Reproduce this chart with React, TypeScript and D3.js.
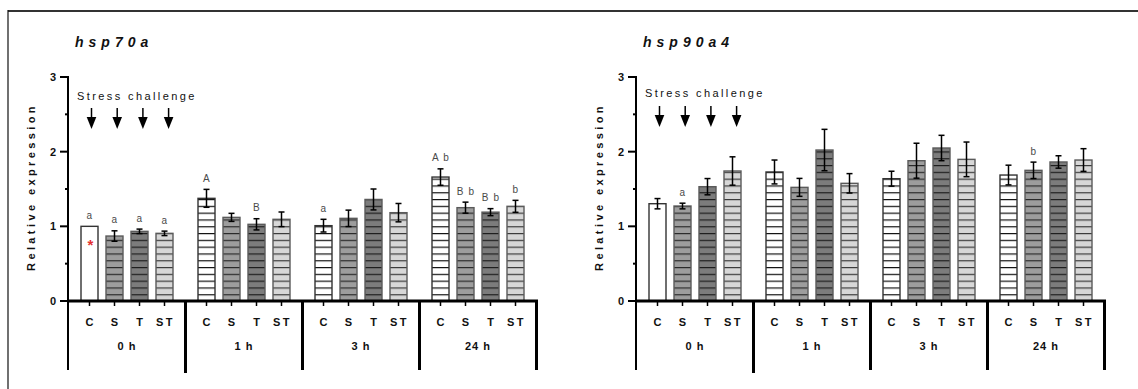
import React from "react";
import * as d3 from "d3";

// Sampling times and treatment groups
const groups = ["0 h", "1 h", "3 h", "24 h"];
const treatments = ["C", "S", "T", "ST"];
const yTicks = [0, 1, 2, 3];
const yMinorTicks = [0.5, 1.5, 2.5];

// hsp70a relative expression (mean, SEM), ordered group by group, C/S/T/ST
const hsp70aMean = [
  1.0, 0.87, 0.933, 0.906,
  1.375, 1.12, 1.027, 1.094,
  1.009, 1.107, 1.36, 1.183,
  1.66, 1.25, 1.19, 1.268,
];
const hsp70aErr = [
  0, 0.07, 0.03, 0.03,
  0.12, 0.054, 0.075, 0.098,
  0.085, 0.11, 0.14, 0.123,
  0.11, 0.074, 0.047, 0.08,
];
const hsp70aLetters = [
  "a", "a", "a", "a",
  "A", "", "B", "",
  "a", "", "", "",
  "A b", "B b", "B b", "b",
];

// hsp90a4 relative expression
const hsp90a4Mean = [
  1.303, 1.272, 1.531, 1.741,
  1.728, 1.522, 2.022, 1.576,
  1.638, 1.879, 2.049, 1.897,
  1.687, 1.75, 1.862, 1.888,
];
const hsp90a4Err = [
  0.069, 0.038, 0.109, 0.19,
  0.16, 0.12, 0.277, 0.13,
  0.1, 0.234, 0.17, 0.232,
  0.132, 0.11, 0.083, 0.152,
];
const hsp90a4Letters = [
  "", "a", "", "",
  "", "", "", "",
  "", "", "", "",
  "", "b", "", "",
];

const FONT = "'Liberation Sans', Arial, sans-serif";
const W = 1138;
const H = 389;

const fills: Record<string, string> = { C: "#ffffff", S: "#9d9d9d", T: "#7c7c7c", ST: "#d7d7d7" };
const stripeColor: Record<string, string> = { C: "#111", S: "#2a2a2a", T: "#1e1e1e", ST: "#3a3a3a" };

const y = d3.scaleLinear().domain([0, 3]).range([301, 77]);

type PanelProps = {
  title: string;
  means: number[];
  errs: number[];
  letters: string[];
  axisX: number;
  annotY: number;
  arrowY: number;
  pid: string;
};

function Panel({ title, means, errs, letters, axisX, annotY, arrowY, pid }: PanelProps) {
  const xGroup = d3.scaleBand<string>().domain(groups).range([axisX + 0.5, axisX + 468.5]).padding(0);
  const xInner = d3
    .scaleBand<string>()
    .domain(treatments)
    .range([0, xGroup.bandwidth()])
    .paddingInner(0.32)
    .paddingOuter(0.5);
  const bw = xInner.bandwidth();
  const base = y(0);
  const xEnd = axisX + 470;

  const bars = groups.flatMap((g, gi) =>
    treatments.map((t, ti) => {
      const k = gi * 4 + ti;
      const x0 = (xGroup(g) as number) + (xInner(t) as number);
      return { g, gi, t, ti, k, x0, cx: x0 + bw / 2, m: means[k], e: errs[k], lab: letters[k] };
    })
  );

  return (
    <g>
      <defs>
        {treatments.map((t) => (
          <pattern
            key={t}
            id={`${pid}-${t}`}
            patternUnits="userSpaceOnUse"
            x={0}
            y={base}
            width={8}
            height={6.8}
          >
            <rect width={8} height={6.8} fill={fills[t]} />
            <rect y={0} width={8} height={1.2} fill={stripeColor[t]} />
          </pattern>
        ))}
      </defs>

      {/* title */}
      <text
        x={axisX + 7}
        y={47}
        fontFamily={FONT}
        fontWeight="bold"
        fontStyle="italic"
        fontSize={14}
        letterSpacing={5}
        fill="#111"
      >
        {title}
      </text>

      {/* y-axis title */}
      <text
        transform={`translate(${axisX - 36},187) rotate(-90)`}
        textAnchor="middle"
        dominantBaseline="middle"
        fontFamily={FONT}
        fontWeight="bold"
        fontSize={11}
        letterSpacing={3.4}
        fill="#111"
      >
        Relative expression
      </text>

      {/* bars */}
      {bars.map((b) => (
        <rect
          key={`bar-${b.k}`}
          x={b.x0}
          y={y(b.m)}
          width={bw}
          height={base - y(b.m)}
          fill={b.k === 0 ? "#ffffff" : `url(#${pid}-${b.t})`}
          stroke={b.t === "C" ? "#333" : "#5a5a5a"}
          strokeWidth={1.4}
        />
      ))}

      {/* error bars */}
      {bars
        .filter((b) => b.e > 0)
        .map((b) => (
          <g key={`err-${b.k}`} stroke="#000" strokeWidth={1.5}>
            <line x1={b.cx} x2={b.cx} y1={y(b.m + b.e)} y2={y(b.m - b.e)} />
            <line x1={b.cx - 3} x2={b.cx + 3} y1={y(b.m + b.e)} y2={y(b.m + b.e)} />
            <line x1={b.cx - 3} x2={b.cx + 3} y1={y(b.m - b.e)} y2={y(b.m - b.e)} />
          </g>
        ))}

      {/* significance letters */}
      {bars
        .filter((b) => b.lab)
        .map((b) => (
          <text
            key={`lab-${b.k}`}
            x={b.cx + 0.5}
            y={y(b.m + b.e) - 10}
            textAnchor="middle"
            dominantBaseline="middle"
            fontFamily={FONT}
            fontSize={10}
            letterSpacing={1.2}
            fill="#4a4a4a"
          >
            {b.lab}
          </text>
        ))}

      {/* y axis */}
      <line x1={axisX} x2={axisX} y1={y(3) - 1} y2={370} stroke="#000" strokeWidth={2} />
      {yTicks.map((v) => (
        <g key={`yt-${v}`}>
          <line x1={axisX - 8} x2={axisX} y1={y(v)} y2={y(v)} stroke="#000" strokeWidth={2} />
          <text
            x={axisX - 12}
            y={y(v) + 4}
            textAnchor="end"
            fontFamily={FONT}
            fontWeight="bold"
            fontSize={11}
            fill="#111"
          >
            {v}
          </text>
        </g>
      ))}
      {yMinorTicks.map((v) => (
        <line key={`ym-${v}`} x1={axisX - 3} x2={axisX} y1={y(v)} y2={y(v)} stroke="#000" strokeWidth={2} />
      ))}

      {/* x axis */}
      <line x1={axisX} x2={xEnd} y1={base} y2={base} stroke="#000" strokeWidth={3} />
      {bars.map((b) => (
        <line key={`xt-${b.k}`} x1={b.cx} x2={b.cx} y1={base} y2={base + 5} stroke="#000" strokeWidth={1.5} />
      ))}
      {bars.map((b) => (
        <text
          key={`xl-${b.k}`}
          x={b.cx + (b.t === "ST" ? 1 : 0)}
          y={326}
          textAnchor="middle"
          fontFamily={FONT}
          fontWeight="bold"
          fontSize={11}
          letterSpacing={b.t === "ST" ? 2.5 : 0}
          fill="#111"
        >
          {b.t}
        </text>
      ))}

      {/* group separators */}
      {groups.map((g, gi) =>
        gi === 0 ? null : (
          <line
            key={`sep-${g}`}
            x1={xGroup(g) as number}
            x2={xGroup(g) as number}
            y1={base}
            y2={gi === 1 ? 373 : 370}
            stroke="#000"
            strokeWidth={3}
          />
        )
      )}
      <line x1={xEnd - 1.5} x2={xEnd - 1.5} y1={base} y2={370} stroke="#000" strokeWidth={3} />
      {groups.map((g) => (
        <text
          key={`gl-${g}`}
          x={(xGroup(g) as number) + xGroup.bandwidth() / 2}
          y={350}
          textAnchor="middle"
          fontFamily={FONT}
          fontWeight="bold"
          fontSize={11}
          letterSpacing={1}
          fill="#111"
        >
          {g}
        </text>
      ))}

      {/* stress challenge annotation */}
      <text
        x={axisX + 9}
        y={annotY}
        fontFamily={FONT}
        fontSize={11}
        letterSpacing={2.4}
        fill="#111"
      >
        Stress challenge
      </text>
      {bars
        .filter((b) => b.gi === 0)
        .map((b) => {
          const ax = b.cx + 2 + b.ti * 0.7;
          return (
            <g key={`arr-${b.k}`}>
              <line x1={ax} x2={ax} y1={arrowY} y2={arrowY + 11} stroke="#000" strokeWidth={1.5} />
              <path
                d={`M${ax - 4.8},${arrowY + 9} L${ax + 4.8},${arrowY + 9} L${ax},${arrowY + 21} Z`}
                fill="#000"
              />
            </g>
          );
        })}
    </g>
  );
}

export default function App() {
  return (
    <svg
      width={W}
      height={H}
      viewBox={`0 0 ${W} ${H}`}
      style={{ position: "absolute", left: 0, top: 0, background: "#fff" }}
    >
      <rect width={W} height={H} fill="#fff" />
      {/* frame */}
      <line x1={8} x2={W} y1={11} y2={11} stroke="#333" strokeWidth={2} />
      <line x1={8} x2={8} y1={10} y2={H} stroke="#111" strokeWidth={1.2} />

      <Panel
        title="hsp70a"
        means={hsp70aMean}
        errs={hsp70aErr}
        letters={hsp70aLetters}
        axisX={68}
        annotY={100}
        arrowY={108}
        pid="p70"
      />
      <Panel
        title="hsp90a4"
        means={hsp90a4Mean}
        errs={hsp90a4Err}
        letters={hsp90a4Letters}
        axisX={636}
        annotY={97}
        arrowY={106}
        pid="p90"
      />

      {/* reference bar marker */}
      <text
        x={90.5}
        y={250}
        textAnchor="middle"
        fontFamily={FONT}
        fontWeight="bold"
        fontSize={15}
        fill="#e53030"
      >
        *
      </text>
    </svg>
  );
}
